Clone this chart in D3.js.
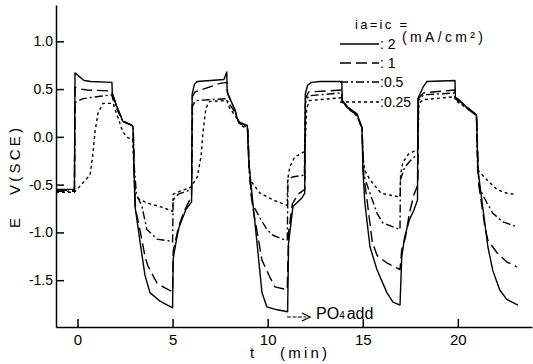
<!DOCTYPE html>
<html>
<head>
<meta charset="utf-8">
<script src="https://cdn.jsdelivr.net/npm/d3@7"></script>
<style>
  html, body { margin: 0; padding: 0; background: #fff; }
  svg { display: block; }
  text { font-family: "Liberation Sans", Arial, sans-serif; fill: #000; }
</style>
</head>
<body>
<svg id="chart" width="533" height="364"></svg>
<script>
// ---------------- data ----------------
const xTicks = [0, 5, 10, 15, 20];
const yTicks = [1.0, 0.5, 0.0, -0.5, -1.0, -1.5];
const yTickLabels = ["1.0", "0.5", "0.0", "-0.5", "-1.0", "-1.5"];
const seriesLabels = ["2", "1", "0.5", "0.25"];

// time (min), potential E (V vs SCE)
const e2 = [
  [-1.13,-0.55],[-0.16,-0.55],[-0.13,0.67],[0.1,0.63],[0.35,0.59],[0.7,0.58],[1.81,0.57],[1.83,0.46],[2.1,0.3],[2.39,0.16],[2.87,0.12],[2.92,0.1],
  [2.97,-0.3],[3.02,-0.72],[3.29,-1.1],[3.55,-1.45],[3.81,-1.63],[4.34,-1.72],[5.0,-1.79],
  [5.03,-1.28],[5.2,-1.08],[5.35,-0.94],[5.7,-0.76],[6.0,-0.68],
  [6.03,0.45],[6.15,0.55],[6.3,0.58],[7.7,0.6],[7.85,0.68],[7.87,0.47],[8.28,0.28],[8.45,0.16],[8.93,0.12],
  [9.0,-0.24],[9.17,-0.59],[9.44,-1.11],[9.7,-1.63],[9.96,-1.78],[10.5,-1.81],[11.05,-1.83],
  [11.1,-1.11],[11.33,-0.73],[11.8,-0.64],[11.95,-0.59],
  [11.98,0.45],[12.1,0.54],[12.3,0.57],[12.75,0.58],[13.9,0.58],[13.92,0.38],[14.22,0.31],[14.7,0.24],[14.9,0.13],[14.96,0.1],
  [15.01,-0.35],[15.11,-0.69],[15.38,-1.15],[15.75,-1.39],[16.27,-1.63],[16.59,-1.73],[16.96,-1.76],
  [17.05,-1.26],[17.2,-1.05],[17.45,-0.87],[17.7,-0.76],[17.88,-0.66],
  [17.9,0.4],[18.17,0.52],[18.38,0.58],[19.85,0.59],[19.87,0.41],[20.0,0.4],[20.48,0.31],[20.98,0.23],
  [21.06,-0.35],[21.32,-0.75],[21.58,-1.15],[21.84,-1.4],[22.2,-1.6],[22.57,-1.7],[23.16,-1.76]
];
const e1 = [
  [-1.13,-0.56],[-0.16,-0.56],[-0.13,0.52],[0.2,0.5],[0.5,0.49],[1.81,0.48],[1.84,0.44],[2.1,0.3],[2.39,0.17],[2.87,0.12],[2.93,0.1],
  [2.98,-0.4],[3.05,-0.75],[3.29,-0.98],[3.55,-1.25],[3.7,-1.35],[4.18,-1.53],[4.6,-1.58],[5.0,-1.62],
  [5.03,-1.2],[5.3,-0.95],[5.6,-0.78],[6.0,-0.62],
  [6.04,0.42],[6.18,0.47],[7.5,0.56],[7.85,0.57],[7.9,0.45],[8.3,0.27],[8.5,0.15],[8.94,0.11],
  [9.05,-0.4],[9.2,-0.72],[9.45,-1.0],[9.7,-1.29],[10.12,-1.47],[10.38,-1.57],[11.03,-1.6],
  [11.1,-1.0],[11.3,-0.7],[11.6,-0.6],[11.95,-0.55],
  [11.99,0.4],[12.15,0.47],[13.9,0.49],[13.93,0.37],[14.22,0.31],[14.7,0.23],[14.9,0.13],[14.96,0.1],
  [15.05,-0.4],[15.25,-0.7],[15.5,-1.1],[15.75,-1.24],[16.27,-1.32],[16.96,-1.39],
  [17.05,-1.18],[17.25,-1.05],[17.45,-0.8],[17.7,-0.6],[17.9,-0.5],
  [17.93,0.4],[18.2,0.46],[19.85,0.49],[19.87,0.41],[20.48,0.31],[20.98,0.23],
  [21.1,-0.5],[21.32,-0.8],[21.42,-0.94],[21.58,-1.08],[22.05,-1.21],[22.58,-1.31],[23.1,-1.36]
];
const e05 = [
  [-1.13,-0.57],[-0.16,-0.57],[-0.13,0.36],[0.3,0.4],[1.0,0.42],[1.81,0.44],[1.85,0.4],[2.1,0.28],[2.39,0.16],[2.87,0.12],[2.93,0.1],
  [2.98,-0.3],[3.1,-0.6],[3.39,-0.73],[3.65,-0.97],[4.18,-1.07],[4.86,-1.09],[5.0,-1.1],
  [5.03,-0.66],[5.3,-0.6],[6.0,-0.55],
  [6.05,0.32],[6.2,0.38],[7.85,0.4],[7.9,0.37],[8.3,0.25],[8.5,0.14],[8.95,0.1],
  [9.05,-0.4],[9.17,-0.69],[9.6,-0.85],[9.96,-0.97],[10.28,-1.03],[10.91,-1.08],[11.03,-1.08],
  [11.07,-0.45],[11.3,-0.42],[11.93,-0.4],
  [11.98,0.35],[12.15,0.43],[13.9,0.46],[13.93,0.37],[14.22,0.3],[14.7,0.22],[14.9,0.12],[14.96,0.1],
  [15.05,-0.4],[15.38,-0.59],[15.75,-0.8],[16.05,-0.9],[16.96,-0.97],
  [16.98,-0.45],[17.2,-0.32],[17.5,-0.25],[17.88,-0.18],
  [17.93,0.38],[18.2,0.44],[19.85,0.46],[19.87,0.4],[20.48,0.3],[20.98,0.22],
  [21.03,-0.3],[21.16,-0.55],[21.53,-0.69],[21.84,-0.8],[22.37,-0.89],[23.1,-0.94]
];
const e025 = [
  [-1.13,-0.58],[-0.16,-0.58],[0.29,-0.48],[0.66,-0.4],[0.8,-0.2],[0.92,0.05],[1.08,0.25],[1.34,0.35],[1.87,0.35],[2.13,0.2],[2.39,0.05],[2.66,-0.01],[2.9,-0.02],
  [2.98,-0.4],[3.05,-0.62],[3.3,-0.66],[3.8,-0.7],[4.5,-0.74],[5.0,-0.78],
  [5.04,-0.6],[5.5,-0.56],[5.95,-0.53],[6.3,-0.42],[6.5,-0.2],[6.6,0.05],[6.75,0.3],[6.95,0.37],[7.85,0.38],[8.0,0.3],[8.3,0.22],[8.6,0.12],[8.94,0.08],
  [9.02,-0.3],[9.07,-0.45],[9.6,-0.59],[10.28,-0.66],[10.91,-0.71],[11.03,-0.72],
  [11.05,-0.45],[11.17,-0.31],[11.43,-0.21],[11.8,-0.17],[11.96,-0.15],
  [12.05,0.3],[12.2,0.38],[13.9,0.41],[13.93,0.36],[14.22,0.3],[14.7,0.22],[14.9,0.12],[14.96,0.1],
  [15.01,-0.2],[15.1,-0.35],[15.38,-0.45],[15.96,-0.59],[16.96,-0.63],
  [16.99,-0.4],[17.1,-0.27],[17.4,-0.18],[17.9,-0.13],
  [17.95,0.35],[18.2,0.39],[19.85,0.42],[19.87,0.38],[20.48,0.3],[20.98,0.22],
  [21.06,-0.35],[21.53,-0.45],[22.05,-0.55],[22.58,-0.59],[22.95,-0.6]
];

const seriesData = [e2, e1, e05, e025];
const dashes = ["none", "11,5", "8,3,2,3", "3,3"];

// ---------------- chart ----------------
const svg = d3.select("#chart");
const x = d3.scaleLinear().domain([-1.13, 23.9]).range([56, 532]);
const y = d3.scaleLinear().domain([-1.99, 1.38]).range([327, 5]);

// axes
const yAxis = d3.axisLeft(y).tickValues(yTicks).tickSize(-8).tickSizeOuter(0).tickPadding(3)
  .tickFormat((d, i) => yTickLabels[i]);
const gy = svg.append("g").attr("transform", "translate(56,0)").call(yAxis);
gy.selectAll("text").style("font-size", "14px").attr("font-family", null).attr("fill", "#000");
gy.selectAll("path, line").attr("stroke", "#000").attr("stroke-width", 1.5);

const xAxis = d3.axisBottom(x).tickValues(xTicks).tickSize(-8).tickSizeOuter(0).tickPadding(7);
const gx = svg.append("g").attr("transform", "translate(0,327)").call(xAxis);
gx.selectAll("text").style("font-size", "15px").attr("font-family", null).attr("fill", "#000");
gx.selectAll("path, line").attr("stroke", "#000").attr("stroke-width", 1.5);

// lines
const line = d3.line().x(d => x(d[0])).y(d => y(d[1])).curve(d3.curveLinear);
svg.append("g").selectAll("path").data(seriesData).join("path")
  .attr("d", line)
  .attr("fill", "none")
  .attr("stroke", "#000")
  .attr("stroke-width", 1.4)
  .attr("stroke-linejoin", "round")
  .attr("stroke-dasharray", (d, i) => dashes[i]);

// axis titles
svg.append("text").attr("transform", "translate(20,223) rotate(-90)")
  .attr("text-anchor", "middle").style("font-size", "15px").text("E");
svg.append("text").attr("transform", "translate(20,195) rotate(-90)")
  .attr("text-anchor", "start").style("font-size", "15px")
  .attr("textLength", 67).attr("lengthAdjust", "spacing").text("V(SCE)");
svg.append("text").attr("x", 252).attr("y", 358).attr("text-anchor", "middle")
  .style("font-size", "15px").text("t");
svg.append("text").attr("x", 280).attr("y", 358).style("font-size", "15px")
  .attr("textLength", 47).attr("lengthAdjust", "spacing").text("(min)");

// legend
svg.append("text").attr("x", 355).attr("y", 29).style("font-size", "13px")
  .attr("textLength", 52).attr("lengthAdjust", "spacing").text("ia=ic =");
svg.append("text").attr("x", 402).attr("y", 42).style("font-size", "14px")
  .attr("textLength", 81).attr("lengthAdjust", "spacing").text("(mA/cm²)");
const legendY = [44, 63, 82, 102];
const leg = svg.append("g").selectAll("g").data(seriesLabels).join("g");
leg.append("line")
  .attr("x1", 340).attr("x2", 379)
  .attr("y1", (d, i) => legendY[i]).attr("y2", (d, i) => legendY[i])
  .attr("stroke", "#000").attr("stroke-width", 1.4)
  .attr("stroke-dasharray", (d, i) => dashes[i]);
leg.append("text")
  .attr("x", 380).attr("y", (d, i) => legendY[i] + 5)
  .style("font-size", "14px")
  .text(d => (d.length === 1 ? ": " : ":") + d);

// PO4 annotation
svg.append("line").attr("x1", 287).attr("x2", 306).attr("y1", 317).attr("y2", 317)
  .attr("stroke", "#000").attr("stroke-width", 1.2).attr("stroke-dasharray", "4,1.5");
svg.append("path").attr("d", "M302,313 L310,317 L302,321")
  .attr("fill", "none").attr("stroke", "#000").attr("stroke-width", 1.3);
const po = svg.append("text").attr("x", 316).attr("y", 319).style("font-size", "16px");
po.append("tspan").text("PO");
po.append("tspan").style("font-size", "10px").text("4");
po.append("tspan").attr("dx", 2).text("add");
</script>
</body>
</html>
